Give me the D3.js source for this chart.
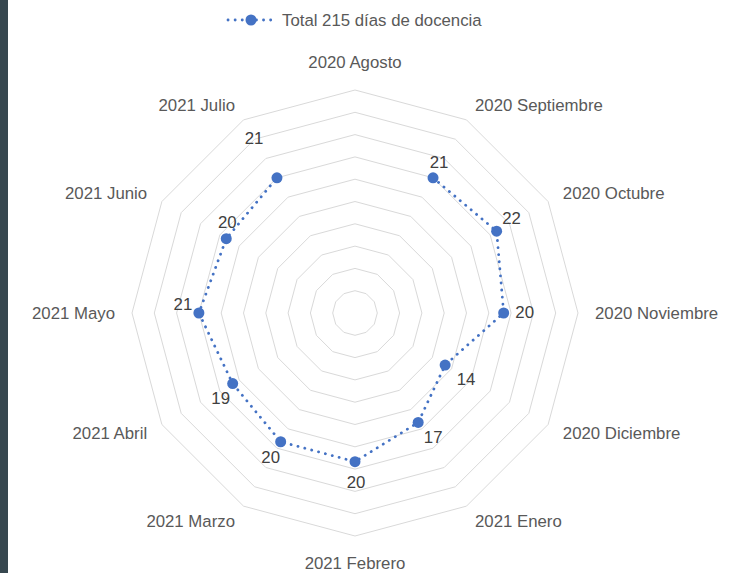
<!DOCTYPE html>
<html><head><meta charset="utf-8">
<script src="https://cdn.jsdelivr.net/npm/d3@7"></script>
<style>html,body{margin:0;padding:0;background:#fff;}svg{display:block;}</style>
</head><body>
<script>
const categories = ["2020 Agosto","2020 Septiembre","2020 Octubre","2020 Noviembre","2020 Diciembre","2021 Enero","2021 Febrero","2021 Marzo","2021 Abril","2021 Mayo","2021 Junio","2021 Julio"];
const values = [null,21,22,20,14,17,20,20,19,21,20,21];
const seriesName = "Total 215 días de docencia";
const axisMax = 30;
const ringStep = 3;

const W = 752, H = 573;
const cx = 355, cy = 313, R = 223;
const FONT = "Liberation Sans, Arial, sans-serif";
const FS = 16.8;
const svg = d3.select("body").append("svg").attr("width", W).attr("height", H);
svg.append("rect").attr("width", W).attr("height", H).attr("fill", "#fff");
svg.append("rect").attr("x", 0).attr("y", 0).attr("width", 8).attr("height", H).attr("fill", "#37474f");

const g = svg.append("g").attr("transform", `translate(${cx},${cy})`);
const r = d3.scaleLinear().domain([0, axisMax]).range([0, R]);
const n = categories.length;
const ang = d3.scaleLinear().domain([0, n]).range([0, 2 * Math.PI]);

// rings
const ringVals = d3.range(ringStep, axisMax + 0.001, ringStep);
const ringLine = d3.lineRadial().angle((d, i) => ang(i)).radius(d => r(d)).curve(d3.curveLinearClosed);
g.selectAll("path.ring").data(ringVals).join("path")
  .attr("d", v => ringLine(categories.map(() => v)))
  .attr("fill", "none").attr("stroke", "#d9d9d9").attr("stroke-width", 1);

// category labels
const lblR = 240;
g.selectAll("text.cat").data(categories).join("text")
  .attr("font-family", FONT).attr("font-size", FS).attr("fill", "#595959")
  .each(function(d, i) {
    const a = ang(i);
    const s = Math.sin(a), c = Math.cos(a);
    let x = lblR * s, y = -lblR * c;
    let anchor = Math.abs(s) < 0.01 ? "middle" : (s > 0 ? "start" : "end");
    if (Math.abs(s) < 0.01) y += (c > 0 ? -11 : 10);
    d3.select(this).attr("x", x).attr("y", y).attr("dy", "0.35em").attr("text-anchor", anchor).text(d);
  });

// series line
const pts = values.map((v, i) => ({v, i}));
const line = d3.lineRadial().defined(d => d.v != null).angle(d => ang(d.i)).radius(d => r(d.v));
const loop = pts.concat([pts[0]]);
g.append("path").attr("d", line(loop))
  .attr("fill", "none").attr("stroke", "#4472c4").attr("stroke-width", 2.8)
  .attr("stroke-dasharray", "0.1 7").attr("stroke-linecap", "round");

const pos = d => [r(d.v) * Math.sin(ang(d.i)), -r(d.v) * Math.cos(ang(d.i))];
const defined = pts.filter(d => d.v != null);
g.selectAll("circle.pt").data(defined).join("circle")
  .attr("cx", d => pos(d)[0]).attr("cy", d => pos(d)[1]).attr("r", 5.5).attr("fill", "#4472c4");

// data labels (offsets as placed in reference)
const nudge = {1:[6,-16],2:[15,-13],3:[21,-1],4:[21,14],5:[15,15],6:[1,20],7:[-10,15],8:[-12,15],9:[-16,-9],10:[1,-17],11:[-23,-40]};
g.selectAll("text.val").data(defined).join("text")
  .attr("font-family", FONT).attr("font-size", FS).attr("fill", "#404040")
  .attr("text-anchor", "middle").attr("dy", "0.35em")
  .attr("x", d => pos(d)[0] + nudge[d.i][0]).attr("y", d => pos(d)[1] + nudge[d.i][1])
  .text(d => d.v);

// legend
const lg = svg.append("g").attr("transform", "translate(228,20)");
lg.append("line").attr("x1", 0).attr("x2", 46).attr("y1", 0).attr("y2", 0)
  .attr("stroke", "#4472c4").attr("stroke-width", 2.8).attr("stroke-dasharray", "0.1 7").attr("stroke-linecap", "round");
lg.append("circle").attr("cx", 23).attr("cy", 0).attr("r", 5.5).attr("fill", "#4472c4");
lg.append("text").attr("x", 54).attr("y", 0).attr("dy", "0.35em")
  .attr("font-family", FONT).attr("font-size", FS).attr("fill", "#595959")
  .text(seriesName);
</script>
</body></html>
